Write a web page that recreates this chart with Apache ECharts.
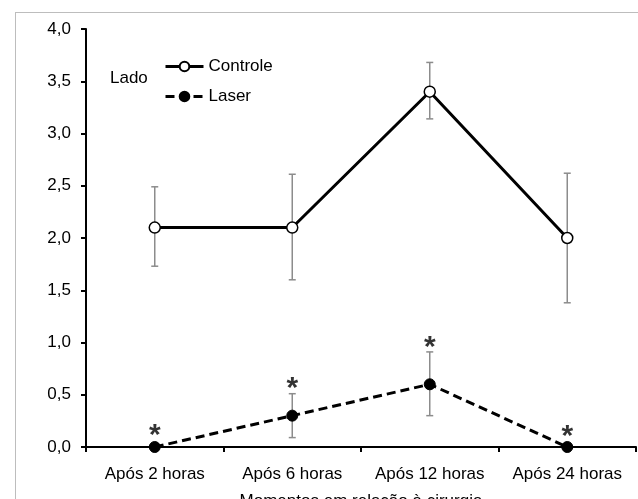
<!DOCTYPE html>
<html>
<head>
<meta charset="utf-8">
<script src="https://cdn.jsdelivr.net/npm/echarts@6/dist/echarts.min.js"></script>
<style>
  html, body { margin: 0; padding: 0; background: #fff; }
  #chart { width: 638px; height: 499px; }
  .frame { position: absolute; left: 15px; top: 12px; width: 640px; height: 500px; border: 1px solid #bdbdbd; }
</style>
</head>
<body>
<div class="frame"></div>
<div id="chart" style="position:absolute;left:0;top:0;"></div>
<script>
const categories = ["Após 2 horas", "Após 6 horas", "Após 12 horas", "Após 24 horas"];
const controle = [2.1, 2.1, 3.4, 2.0];
const controleLow = [1.73, 1.6, 3.14, 1.38];
const controleHigh = [2.49, 2.61, 3.68, 2.62];
const laser = [0, 0.3, 0.6, 0];
const laserLow = [0, 0.09, 0.3, 0];
const laserHigh = [0, 0.51, 0.91, 0];
const asteriskAt = [0.14, 0.59, 0.98, 0.13];
const yTicks = ["0,0", "0,5", "1,0", "1,5", "2,0", "2,5", "3,0", "3,5", "4,0"];

const font = "Liberation Sans, Arial, sans-serif";
const fs = 17;
const chart = echarts.init(document.getElementById("chart"));

const errData = (lo, hi) => lo.map((l, i) => [i, l, hi[i]]).filter(d => d[2] > d[1]);

const errorBars = (data) => ({
  type: "custom",
  z: 1,
  silent: true,
  data: data,
  encode: { x: 0, y: [1, 2] },
  renderItem: (params, api) => {
    const lo = api.coord([api.value(0), api.value(1)]);
    const hi = api.coord([api.value(0), api.value(2)]);
    const w = 3.5;
    const st = { stroke: "#8c8c8c", lineWidth: 1.5 };
    return {
      type: "group",
      children: [
        { type: "line", shape: { x1: lo[0], y1: lo[1], x2: hi[0], y2: hi[1] }, style: st },
        { type: "line", shape: { x1: lo[0] - w, y1: lo[1], x2: lo[0] + w, y2: lo[1] }, style: st },
        { type: "line", shape: { x1: hi[0] - w, y1: hi[1], x2: hi[0] + w, y2: hi[1] }, style: st }
      ]
    };
  }
});

chart.setOption({
  animation: false,
  grid: { left: 86, right: 2, top: 29, bottom: 52, outerBoundsMode: "none", containLabel: false },
  legend: {
    orient: "vertical",
    left: 164,
    top: 58,
    padding: 0,
    itemGap: 13,
    itemWidth: 38,
    itemHeight: 12,
    data: ["Controle", "Laser"],
    lineStyle: { width: 3 },
    textStyle: { fontFamily: font, fontSize: fs, color: "#000" }
  },
  graphic: [
    { type: "text", left: 110, top: 70, style: { text: "Lado", font: fs + "px " + font, fill: "#000" } }
  ],
  xAxis: {
    type: "category",
    data: categories,
    name: "Momentos em relação à cirurgia",
    nameLocation: "middle",
    nameGap: 46,
    nameTextStyle: { fontFamily: font, fontSize: fs, color: "#000" },
    axisLine: { lineStyle: { color: "#000", width: 2 } },
    axisTick: { show: true, length: 5, lineStyle: { color: "#000", width: 2 } },
    axisLabel: { fontFamily: font, fontSize: fs, color: "#000", margin: 19, interval: 0, hideOverlap: false },
    splitLine: { show: false }
  },
  yAxis: {
    type: "value",
    min: 0,
    max: 4,
    interval: 0.5,
    axisLine: { show: true, lineStyle: { color: "#000", width: 2 } },
    axisTick: { show: true, length: 5, lineStyle: { color: "#000", width: 2 } },
    axisLabel: {
      fontFamily: font, fontSize: fs, color: "#000", margin: 15,
      formatter: (v) => yTicks[Math.round(v / 0.5)]
    },
    splitLine: { show: false }
  },
  series: [
    errorBars(errData(controleLow, controleHigh)),
    errorBars(errData(laserLow, laserHigh)),
    {
      name: "Controle",
      type: "line",
      z: 3,
      data: controle,
      symbol: "circle",
      symbolSize: 11,
      lineStyle: { color: "#000", width: 3 },
      itemStyle: { color: "#fff", borderColor: "#000", borderWidth: 1.5 }
    },
    {
      name: "Laser",
      type: "line",
      z: 3,
      data: laser,
      symbol: "circle",
      symbolSize: 11,
      lineStyle: { color: "#000", width: 3, type: [9, 5] },
      itemStyle: { color: "#000", borderColor: "#000", borderWidth: 1 }
    },
    {
      type: "scatter",
      z: 4,
      silent: true,
      symbol: "circle",
      symbolSize: 1,
      itemStyle: { color: "rgba(0,0,0,0)" },
      data: asteriskAt,
      label: {
        show: true,
        position: "inside",
        offset: [0, 3],
        formatter: "*",
        fontFamily: font,
        fontWeight: "bold",
        fontSize: 30,
        color: "#000",
        textBorderWidth: 0
      }
    }
  ]
});
</script>
</body>
</html>
